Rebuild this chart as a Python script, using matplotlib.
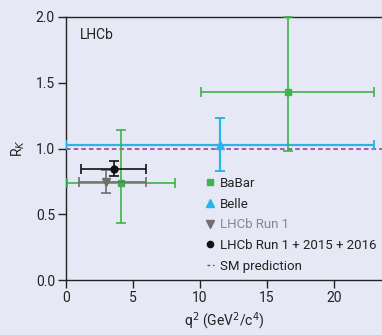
import matplotlib
matplotlib.use("Agg")
import matplotlib.pyplot as plt
from matplotlib.lines import Line2D

plt.rcParams['font.family'] = ['Roboto', 'DejaVu Sans']

# Data
babar_x = [4.1, 16.6]
babar_xlo = [0.1, 10.1]
babar_xhi = [8.12, 23.0]
babar_y = [0.74, 1.43]
babar_ylo = [0.43, 0.98]
babar_yhi = [1.14, 2.0]

belle_x = [11.5]
belle_xlo = [0.0]
belle_xhi = [23.0]
belle_y = [1.03]
belle_ylo = [0.83]
belle_yhi = [1.23]

run1_x = [3.0]
run1_xlo = [1.0]
run1_xhi = [6.0]
run1_y = [0.745]
run1_ylo = [0.665]
run1_yhi = [0.835]

comb_x = [3.55]
comb_xlo = [1.1]
comb_xhi = [6.0]
comb_y = [0.846]
comb_ylo = [0.792]
comb_yhi = [0.906]

sm_value = 1.0

xticks = [0, 5, 10, 15, 20]
yticks = [0.0, 0.5, 1.0, 1.5, 2.0]

bg = '#e6e9f5'
green = '#3cb44b'
blue = '#29b5ea'
gray = '#6e6e6e'
purple = '#a0289b'

W, H = 382, 335
fig = plt.figure(figsize=(W/100, H/100), dpi=100, facecolor=bg)
ax = fig.add_axes([66/W, (H-280)/H, (W-66)/W, (280-17)/H], facecolor=bg)


def errs(x, xlo, xhi, y, ylo, yhi):
    xe = [[a - b for a, b in zip(x, xlo)], [b - a for a, b in zip(x, xhi)]]
    ye = [[a - b for a, b in zip(y, ylo)], [b - a for a, b in zip(y, yhi)]]
    return xe, ye

ax.axhline(sm_value, color=purple, ls=(0, (3, 2)), lw=1.1, zorder=2)

xe, ye = errs(belle_x, belle_xlo, belle_xhi, belle_y, belle_ylo, belle_yhi)
ax.errorbar(belle_x, belle_y, xerr=xe, yerr=ye, fmt='^', color=blue, ms=6,
            lw=1.6, capsize=3.5, capthick=1.4, zorder=3)

xe, ye = errs(babar_x, babar_xlo, babar_xhi, babar_y, babar_ylo, babar_yhi)
ax.errorbar(babar_x, babar_y, xerr=xe, yerr=ye, fmt='s', color=green, ms=5,
            lw=1.2, capsize=3.5, capthick=1.2, zorder=4, clip_on=False)

xe, ye = errs(run1_x, run1_xlo, run1_xhi, run1_y, run1_ylo, run1_yhi)
ax.errorbar(run1_x, run1_y, xerr=xe, yerr=ye, fmt='v', color=gray, ms=6,
            lw=1.2, capsize=3.5, capthick=1.2, zorder=5)

xe, ye = errs(comb_x, comb_xlo, comb_xhi, comb_y, comb_ylo, comb_yhi)
ax.errorbar(comb_x, comb_y, xerr=xe, yerr=ye, fmt='o', color='#111111', ms=5,
            lw=1.2, capsize=3.5, capthick=1.2, zorder=6)

ax.set_xlim(0, (W-66)/13.4)
ax.set_ylim(0, 2.0)
ax.set_xticks(xticks)
ax.set_yticks(yticks)
ax.set_yticklabels([f'{v:.1f}' for v in yticks])
ax.tick_params(direction='out', length=6, width=1, labelsize=10, pad=2, colors='#222222')
for s in ['left', 'bottom', 'top']:
    ax.spines[s].set_color('#222222')
    ax.spines[s].set_linewidth(1.0)
ax.spines['right'].set_visible(False)

ax.set_xlabel('q$^2$ (GeV$^2$/c$^4$)', fontsize=10, color='#222222', labelpad=4)
ax.set_ylabel('R$_K$', fontsize=10, color='#222222', labelpad=6)
ax.text(0.045, 0.93, 'LHCb', transform=ax.transAxes, fontsize=10,
        color='#222222', va='center')

handles = [
    Line2D([], [], marker='s', color=green, ls='none', ms=4.5),
    Line2D([], [], marker='^', color=blue, ls='none', ms=5.5),
    Line2D([], [], marker='v', color=gray, ls='none', ms=5.5),
    Line2D([], [], marker='o', color='#111111', ls='none', ms=4.5),
    Line2D([], [], color=purple, ls=(0, (2, 2)), lw=1.0),
]
labels = ['BaBar', 'Belle', 'LHCb Run 1', 'LHCb Run 1 + 2015 + 2016', 'SM prediction']
leg = ax.legend(handles, labels, loc='upper left', bbox_to_anchor=((207-66)/(W-66), (280-177)/(280-17)),
                frameon=False, fontsize=9.5, handlelength=0.5, handletextpad=0.45,
                labelspacing=0.58, borderpad=0, borderaxespad=0)
for t in leg.get_texts():
    t.set_color('#222222')
leg.get_texts()[2].set_color('#888888')

fig.savefig('out.png', dpi=100, facecolor=bg)
